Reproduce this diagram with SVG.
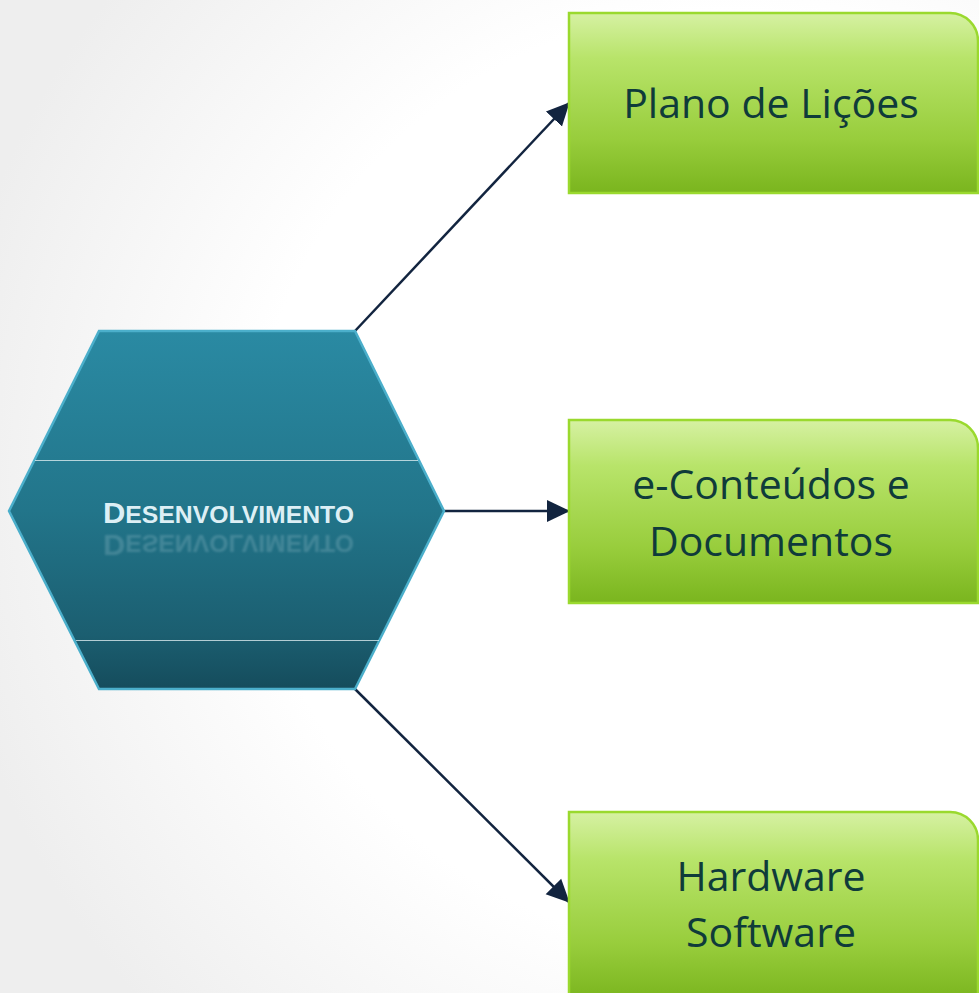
<svg xmlns="http://www.w3.org/2000/svg" width="979" height="993" viewBox="0 0 979 993">
  <defs>
    <radialGradient id="bg" cx="720" cy="480" r="780" gradientUnits="userSpaceOnUse">
      <stop offset="0.6" stop-color="#FFFFFF"/>
      <stop offset="1" stop-color="#EEEEEE"/>
    </radialGradient>
    <linearGradient id="hexFill" x1="0" y1="331" x2="0" y2="689" gradientUnits="userSpaceOnUse">
      <stop offset="0" stop-color="#2A8AA3"/>
      <stop offset="0.5" stop-color="#22758A"/>
      <stop offset="0.85" stop-color="#1B5E70"/>
      <stop offset="1" stop-color="#154C5C"/>
    </linearGradient>
    <linearGradient id="boxFill" x1="0" y1="0" x2="0" y2="1">
      <stop offset="0" stop-color="#D6F1A3"/>
      <stop offset="0.25" stop-color="#B8E46A"/>
      <stop offset="0.7" stop-color="#98CD3C"/>
      <stop offset="1" stop-color="#7AB51E"/>
    </linearGradient>
    <filter id="soft" x="-5%" y="-50%" width="110%" height="200%">
      <feGaussianBlur stdDeviation="1.2"/>
    </filter>
    <marker id="arrow" markerUnits="userSpaceOnUse" markerWidth="24" markerHeight="24" viewBox="0 0 24 24" refX="22" refY="12" orient="auto">
      <path d="M0,1 L23,12 L0,23 Z" fill="#12243F"/>
    </marker>
    <style>
      .box { fill: url(#boxFill); stroke: #9AD92E; stroke-width: 2.5; }
      .boxText { font-family: "Open Sans", "Liberation Sans", sans-serif; font-size: 41px; fill: #0F3B3A; text-anchor: middle; }
      .conn { stroke: #12243F; stroke-width: 2.5; fill: none; marker-end: url(#arrow); }
      .hexLine { stroke: #E6F3F6; stroke-width: 1; opacity: 0.75; }
      .hexText { font-family: "Liberation Sans", "Open Sans", sans-serif; font-weight: bold; fill: #DDEFF5; }
    </style>
  </defs>

  <rect x="0" y="0" width="979" height="993" fill="url(#bg)"/>

  <g id="connectors">
    <line class="conn" x1="355" y1="331" x2="569" y2="103"/>
    <line class="conn" x1="444" y1="511" x2="569" y2="511"/>
    <line class="conn" x1="355" y1="689" x2="569" y2="902"/>
  </g>

  <g id="node-desenvolvimento">
    <polygon points="99,331 355,331 444,511 355,689 99,689 9,511" fill="url(#hexFill)" stroke="#4BAFCB" stroke-width="2.5"/>
    <line class="hexLine" x1="35" y1="460.5" x2="418" y2="460.5"/>
    <line class="hexLine" x1="76" y1="640.5" x2="379" y2="640.5"/>
    <g transform="translate(0,1058) scale(1,-1)" opacity="0.18" filter="url(#soft)">
      <text class="hexText" x="103" y="523" textLength="251" lengthAdjust="spacingAndGlyphs"><tspan font-size="30">D</tspan><tspan font-size="24">ESENVOLVIMENTO</tspan></text>
    </g>
    <text class="hexText" x="103" y="523" textLength="251" lengthAdjust="spacingAndGlyphs"><tspan font-size="30">D</tspan><tspan font-size="24">ESENVOLVIMENTO</tspan></text>
  </g>

  <g id="node-plano">
    <path class="box" d="M569,13 H950 A28,28 0 0 1 978,41 V193 H569 Z"/>
    <text class="boxText" x="771" y="118">Plano de Lições</text>
  </g>

  <g id="node-conteudos">
    <path class="box" d="M569,420 H950 A28,28 0 0 1 978,448 V603 H569 Z"/>
    <text class="boxText" x="771" y="499">e-Conteúdos e</text>
    <text class="boxText" x="771" y="556">Documentos</text>
  </g>

  <g id="node-hardware">
    <path class="box" d="M569,812 H950 A28,28 0 0 1 978,840 V1000 H569 Z"/>
    <text class="boxText" x="771" y="891">Hardware</text>
    <text class="boxText" x="771" y="947">Software</text>
  </g>
</svg>
